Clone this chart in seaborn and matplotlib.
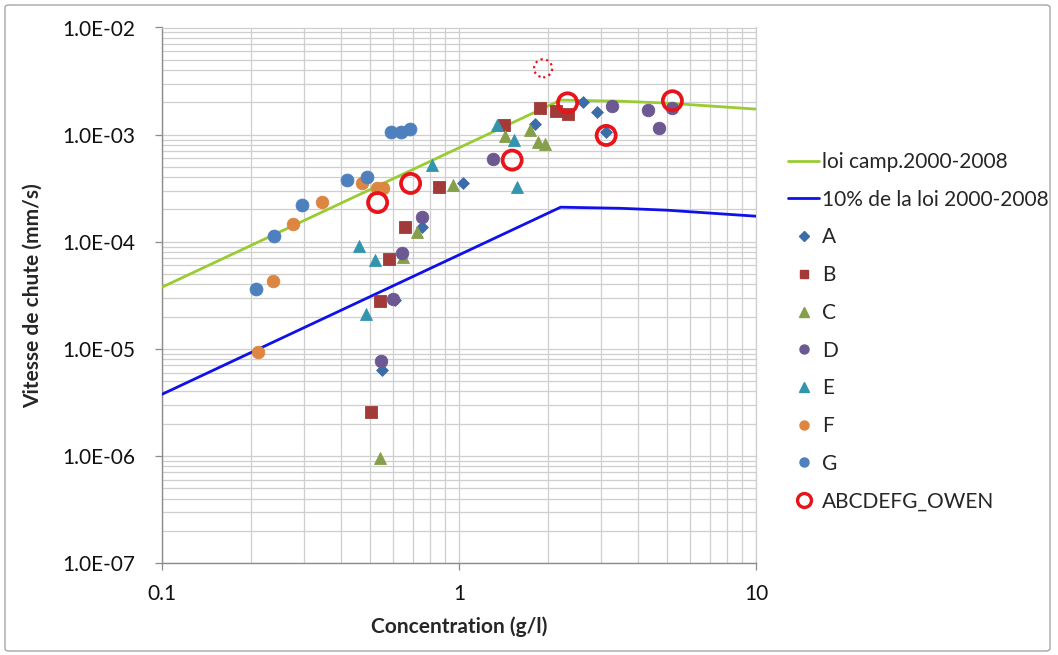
import matplotlib
matplotlib.use("Agg")
import matplotlib.pyplot as plt
import seaborn as sns
import pandas as pd
from matplotlib.lines import Line2D
from matplotlib.patches import FancyBboxPatch
from matplotlib.ticker import FixedLocator, LogLocator, NullFormatter, FuncFormatter

# Settling law fitted on the 2000-2008 campaigns, and 10 % of it
law_c = [0.1, 2.2, 3.5, 5.0, 10.0]
law_w = [3.76e-5, 2.10e-3, 2.05e-3, 1.97e-3, 1.73e-3]
law10_c = [0.1, 2.2, 3.5, 5.0, 10.0]
law10_w = [3.76e-6, 2.10e-4, 2.05e-4, 1.97e-4, 1.73e-4]

# Measured settling velocities per campaign (concentration g/l, velocity mm/s)
a_c = [1.03, 1.80, 2.61, 2.92, 3.13, 0.75, 0.61, 0.552]
a_w = [3.57e-4, 1.25e-3, 2.03e-3, 1.62e-3, 1.06e-3, 1.37e-4, 2.85e-5, 6.4e-6]
b_c = [0.854, 1.42, 1.88, 2.12, 2.33, 0.658, 0.582, 0.542, 0.505]
b_w = [3.25e-4, 1.23e-3, 1.76e-3, 1.66e-3, 1.55e-3, 1.37e-4, 6.86e-5, 2.8e-5, 2.57e-6]
c_c = [0.957, 1.43, 1.73, 1.84, 1.95, 0.721, 0.647, 0.542]
c_w = [3.37e-4, 9.8e-4, 1.10e-3, 8.45e-4, 8.15e-4, 1.22e-4, 7.2e-5, 9.6e-7]
d_c = [0.748, 1.30, 3.28, 4.33, 4.70, 5.23, 0.643, 0.598, 0.545]
d_w = [1.70e-4, 5.86e-4, 1.85e-3, 1.69e-3, 1.16e-3, 1.79e-3, 7.85e-5, 2.92e-5, 7.7e-6]
e_c = [0.809, 1.34, 1.53, 1.57, 0.461, 0.522, 0.487]
e_w = [5.19e-4, 1.23e-3, 8.9e-4, 3.25e-4, 9.08e-5, 6.7e-5, 2.13e-5]
f_c = [0.211, 0.237, 0.277, 0.347, 0.472, 0.528, 0.556]
f_w = [9.3e-6, 4.3e-5, 1.45e-4, 2.36e-4, 3.57e-4, 3.14e-4, 3.14e-4]
g_c = [0.207, 0.238, 0.297, 0.421, 0.491, 0.590, 0.638, 0.684]
g_w = [3.6e-5, 1.12e-4, 2.18e-4, 3.73e-4, 4.03e-4, 1.05e-3, 1.05e-3, 1.12e-3]
owen_c = [0.532, 0.687, 1.51, 2.32, 3.13, 5.23]
owen_w = [2.32e-4, 3.50e-4, 5.78e-4, 1.98e-3, 9.82e-4, 2.07e-3]
owen_extra_c = [1.92]
owen_extra_w = [4.16e-3]

series_names = ["A", "B", "C", "D", "E", "F", "G"]
series_data = [(a_c, a_w), (b_c, b_w), (c_c, c_w), (d_c, d_w),
               (e_c, e_w), (f_c, f_w), (g_c, g_w)]
series_colors = ["#3C6DA8", "#A23B37", "#859F4A", "#6C5892",
                 "#3394AE", "#DC8641", "#4E80BE"]
series_markers = ["D", "s", "^", "o", "^", "o", "o"]
series_sizes = [36, 66, 74, 82, 74, 82, 86]
legend_ms = [5, 6, 6.5, 6.5, 6.5, 6.5, 6.5]

x_ticks = [0.1, 1, 10]
x_tick_labels = ["0.1", "1", "10"]
y_ticks = [1e-7, 1e-6, 1e-5, 1e-4, 1e-3, 1e-2]
y_tick_labels = ["1.0E-07", "1.0E-06", "1.0E-05", "1.0E-04", "1.0E-03", "1.0E-02"]

GREEN = "#99CC33"
BLUE = "#1010E8"
RED = "#E8141B"
GRID = "#CFCFCF"
AXIS = "#8C8C8C"

sns.set_style("white")
plt.rcParams["font.family"] = ["Lato", "DejaVu Sans"]

fig = plt.figure(figsize=(10.58, 6.55), dpi=100)
ax = fig.add_axes([162 / 1058, 1 - 563 / 655, (756 - 162) / 1058, (563 - 27.5) / 655])

law_df = pd.DataFrame({"c": law_c, "w": law_w})
law10_df = pd.DataFrame({"c": law10_c, "w": law10_w})
sns.lineplot(data=law_df, x="c", y="w", ax=ax, color=GREEN, lw=2.0,
             sort=False, estimator=None, zorder=3)
sns.lineplot(data=law10_df, x="c", y="w", ax=ax, color=BLUE, lw=2.0,
             sort=False, estimator=None, zorder=3)

for name, (cx, wy), col, mk, sz in zip(series_names, series_data, series_colors,
                                       series_markers, series_sizes):
    df = pd.DataFrame({"c": cx, "w": wy})
    sns.scatterplot(data=df, x="c", y="w", ax=ax, marker=mk, s=sz, color=col,
                    edgecolor=col, linewidth=0.6, zorder=4)

owen_df = pd.DataFrame({"c": owen_c, "w": owen_w})
sns.scatterplot(data=owen_df, x="c", y="w", ax=ax, marker="o", s=190,
                facecolor="none", edgecolor=RED, linewidth=2.7, zorder=5)
extra_df = pd.DataFrame({"c": owen_extra_c, "w": owen_extra_w})
ax.scatter(extra_df["c"], extra_df["w"], marker="o", s=170, facecolors="none",
           edgecolors=RED, linewidths=1.6, linestyles=(0, (1, 1.6)), zorder=5)

ax.set_xscale("log")
ax.set_yscale("log")
ax.set_xlim(0.1, 10)
ax.set_ylim(1e-7, 1e-2)

ax.xaxis.set_major_locator(FixedLocator(x_ticks))
ax.xaxis.set_major_formatter(FuncFormatter(lambda v, p: x_tick_labels[x_ticks.index(v)] if v in x_ticks else ""))
ax.yaxis.set_major_locator(FixedLocator(y_ticks))
ax.yaxis.set_major_formatter(FuncFormatter(lambda v, p: y_tick_labels[y_ticks.index(v)] if v in y_ticks else ""))
ax.xaxis.set_minor_locator(LogLocator(base=10, subs=range(2, 10), numticks=20))
ax.yaxis.set_minor_locator(LogLocator(base=10, subs=range(2, 10), numticks=20))
ax.xaxis.set_minor_formatter(NullFormatter())
ax.yaxis.set_minor_formatter(NullFormatter())

ax.grid(True, which="both", color=GRID, lw=0.9)
ax.set_axisbelow(True)
ax.tick_params(which="major", length=5, width=0.9, color=AXIS, labelsize=15,
               labelcolor="#111111", direction="out")
ax.tick_params(axis="y", which="major", pad=14)
ax.tick_params(axis="x", which="major", pad=10)
ax.tick_params(which="minor", length=0)
ax.tick_params(left=True, bottom=True)
for side in ["left", "bottom"]:
    ax.spines[side].set_color(AXIS)
    ax.spines[side].set_linewidth(1.0)
for side in ["top", "right"]:
    ax.spines[side].set_color(GRID)
    ax.spines[side].set_linewidth(0.9)

ax.set_xlabel("Concentration (g/l)", fontsize=15, fontweight="bold", labelpad=9)
ax.set_ylabel("Vitesse de chute (mm/s)", fontsize=15, fontweight="bold", labelpad=14)

handles = [Line2D([], [], color=GREEN, lw=2.0), Line2D([], [], color=BLUE, lw=2.0)]
labels = ["loi camp.2000-2008", "10% de la loi 2000-2008"]
for name, col, mk, ms in zip(series_names, series_colors, series_markers, legend_ms):
    handles.append(Line2D([], [], ls="", marker=mk, color=col, ms=ms, mec=col))
    labels.append(name)
handles.append(Line2D([], [], ls="", marker="o", ms=10, mfc="none", mec=RED, mew=2.4))
labels.append("ABCDEFG_OWEN")
fig.legend(handles, labels, loc="upper left", bbox_to_anchor=(788 / 1058, 1 - 152 / 655),
           frameon=False, fontsize=15, handlelength=1.5, handletextpad=0.15,
           labelspacing=0.85, borderpad=0, borderaxespad=0)

fig.patches.append(FancyBboxPatch((5 / 1058, 4 / 655), 1045 / 1058, 646 / 655,
                                  boxstyle="round,pad=0,rounding_size=0.004",
                                  transform=fig.transFigure, facecolor="none",
                                  edgecolor="#A6A6A6", lw=1.0))

fig.savefig("out.png", dpi=100)
